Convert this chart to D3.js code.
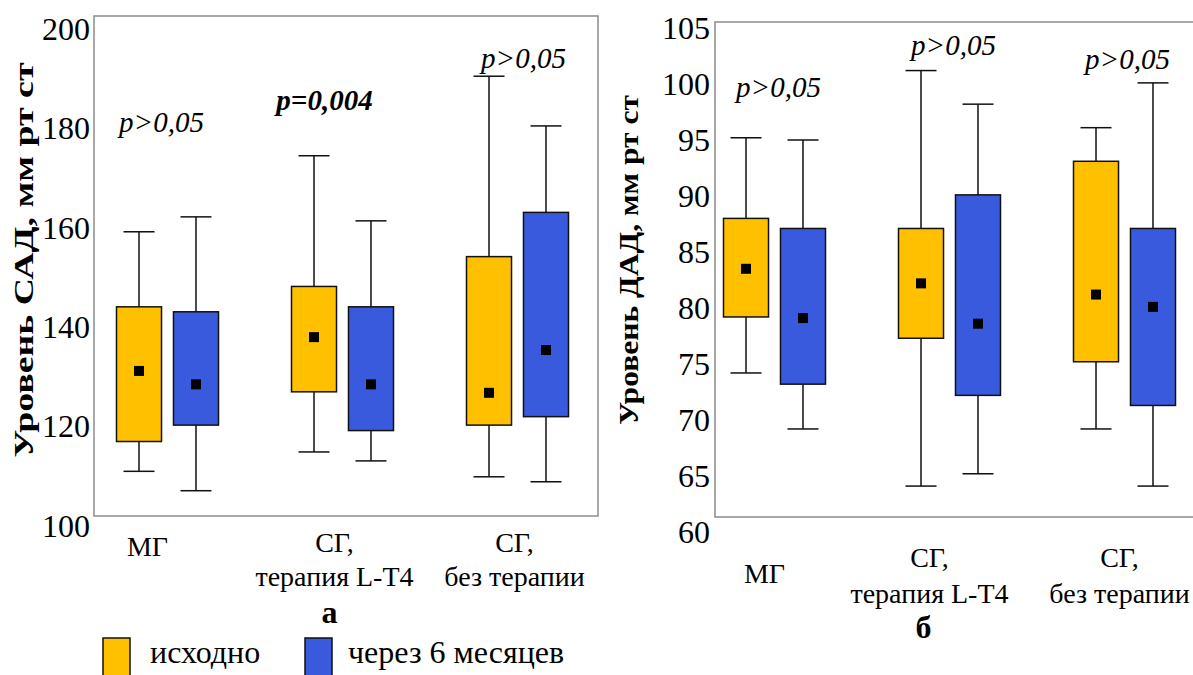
<!DOCTYPE html>
<html>
<head>
<meta charset="utf-8">
<script src="https://cdn.jsdelivr.net/npm/d3@7"></script>
<style>
  body { margin: 0; background: #fff; }
  svg text { font-family: "Liberation Serif", "Times New Roman", serif; fill: #000; }
</style>
</head>
<body>
<svg id="chart" width="1193" height="675"></svg>
<script>
// categories and series
var groups = ["МГ", "СГ, терапия L-T4", "СГ, без терапии"];
var groupLines = [["МГ"], ["СГ,", "терапия L-T4"], ["СГ,", "без терапии"]];
var series = ["исходно", "через 6 месяцев"];
var seriesColors = ["#FFC000", "#3A5ADE"];

// panel a: САД, order = МГ(исх, 6м), L-T4(исх, 6м), без терапии(исх, 6м)
var sadLow  = [111.0, 107.1, 114.9, 113.1, 109.9, 108.9];
var sadQ1   = [117.0, 120.3, 127.0, 119.2, 120.3, 122.0];
var sadMean = [131.2, 128.5, 138.0, 128.5, 126.8, 135.4];
var sadQ3   = [144.1, 143.1, 148.2, 144.1, 154.2, 163.1];
var sadHigh = [159.2, 162.2, 174.5, 161.4, 190.5, 180.5];
var sadTicks = [100, 120, 140, 160, 180, 200];
var sadP = ["p>0,05", "p=0,004", "p>0,05"];
var sadPAt = [179.3, 183.7, 192.2];

// panel б: ДАД
var dadLow  = [74.2, 69.2, 64.1, 65.2, 69.2, 64.1];
var dadQ1   = [79.2, 73.2, 77.3, 72.2, 75.2, 71.3];
var dadMean = [83.5, 79.1, 82.2, 78.6, 81.2, 80.1];
var dadQ3   = [88.0, 87.1, 87.1, 90.1, 93.1, 87.1];
var dadHigh = [95.2, 95.0, 101.2, 98.2, 96.1, 100.1];
var dadTicks = [60, 65, 70, 75, 80, 85, 90, 95, 100, 105];
var dadP = ["p>0,05", "p>0,05", "p>0,05"];
var dadPAt = [98.8, 102.6, 101.3];

var svg = d3.select("#chart");

// build rows for a panel from its arrays
function makeRows(low, q1, mean, q3, high) {
  var rows = [];
  groups.forEach(function(g, i) {
    series.forEach(function(s, j) {
      var k = i * series.length + j;
      rows.push({group: g, series: s, lo: low[k], q1: q1[k], mean: mean[k], q3: q3[k], hi: high[k]});
    });
  });
  return rows;
}

function drawPanel(cfg) {
  var g = svg.append("g");

  var y = d3.scaleLinear().domain(cfg.yDomain).range(cfg.yRange);
  var x0 = d3.scaleBand().domain(groups).range(cfg.xRange);
  var x1 = d3.scaleBand().domain(series).range([-51, 51]).paddingInner(0.21);
  var color = d3.scaleOrdinal().domain(series).range(seriesColors);
  var mid = function(i) { return x0(groups[i]) + x0.bandwidth() / 2; };

  // plot frame
  g.append("rect")
    .attr("x", cfg.frame[0]).attr("y", cfg.frame[1])
    .attr("width", cfg.frame[2] - cfg.frame[0]).attr("height", cfg.frame[3] - cfg.frame[1])
    .attr("fill", "none").attr("stroke", "#8c8c8c").attr("stroke-width", 1.5);

  // y axis labels only
  var ax = g.append("g")
    .attr("transform", "translate(" + cfg.frame[0] + ",0)")
    .call(d3.axisLeft(y).tickValues(cfg.ticks).tickSize(0).tickPadding(cfg.tickPad))
    .attr("font-family", null).attr("font-size", 32);
  ax.select(".domain").remove();

  // y title
  g.append("text")
    .attr("transform", "translate(" + cfg.titleX + ",260) rotate(-90)")
    .attr("text-anchor", "middle")
    .attr("font-size", 27).attr("font-weight", "bold")
    .attr("textLength", cfg.titleLen).attr("lengthAdjust", "spacingAndGlyphs")
    .text(cfg.title);

  var bw = x1.bandwidth();
  var cx = function(d) { return x0(d.group) + x0.bandwidth() / 2 + x1(d.series) + bw / 2; };

  var box = g.selectAll(".box").data(cfg.rows).enter().append("g").attr("class", "box");

  // whiskers
  box.append("line")
    .attr("x1", cx).attr("x2", cx)
    .attr("y1", function(d) { return y(d.hi); }).attr("y2", function(d) { return y(d.lo); })
    .attr("stroke", "#111").attr("stroke-width", 1.5);
  ["hi", "lo"].forEach(function(k) {
    box.append("line")
      .attr("x1", function(d) { return cx(d) - 15.5; }).attr("x2", function(d) { return cx(d) + 15.5; })
      .attr("y1", function(d) { return y(d[k]); }).attr("y2", function(d) { return y(d[k]); })
      .attr("stroke", "#111").attr("stroke-width", 1.5);
  });

  // boxes
  box.append("rect")
    .attr("x", function(d) { return cx(d) - bw / 2; })
    .attr("y", function(d) { return y(d.q3); })
    .attr("width", bw)
    .attr("height", function(d) { return y(d.q1) - y(d.q3); })
    .attr("fill", function(d) { return color(d.series); })
    .attr("stroke", "#111").attr("stroke-width", 1.5);

  // mean marker
  box.append("rect")
    .attr("x", function(d) { return cx(d) - 5; })
    .attr("y", function(d) { return y(d.mean) - 5; })
    .attr("width", 10).attr("height", 10)
    .attr("fill", "#000");

  // p values
  g.selectAll(".pval").data(cfg.p).enter().append("text")
    .attr("class", "pval")
    .attr("x", function(d, i) { return mid(i) + cfg.pDx[i]; })
    .attr("y", function(d, i) { return y(cfg.pAt[i]); })
    .attr("text-anchor", "middle")
    .attr("font-size", 29).attr("font-style", "italic")
    .attr("font-weight", function(d) { return d.indexOf("=") >= 0 ? "bold" : "normal"; })
    .text(function(d) { return d; });

  // group labels
  var lab = g.selectAll(".glab").data(groupLines).enter().append("text")
    .attr("class", "glab")
    .attr("text-anchor", "middle")
    .attr("font-size", 28)
    .attr("x", function(d, i) { return mid(i) + cfg.labelDx[i]; })
    .attr("y", function(d) { return d.length == 1 ? cfg.singleY : cfg.labelY; });
  lab.selectAll("tspan").data(function(d) { return d; }).enter().append("tspan")
    .attr("x", function() { return d3.select(this.parentNode).attr("x"); })
    .attr("dy", function(d, i) { return i == 0 ? 0 : cfg.lineGap; })
    .text(function(d) { return d; });

  // panel letter
  g.append("text")
    .attr("x", mid(1) + cfg.letterDx).attr("y", cfg.letterY)
    .attr("text-anchor", "middle")
    .attr("font-size", 32).attr("font-weight", "bold")
    .text(cfg.letter);
}

drawPanel({
  rows: makeRows(sadLow, sadQ1, sadMean, sadQ3, sadHigh),
  yDomain: [100, 200], yRange: [526, 29], ticks: sadTicks,
  xRange: [80, 605], frame: [94, 16, 598, 516], tickPad: 4,
  title: "Уровень САД, мм рт ст", titleX: 33, titleLen: 395,
  p: sadP, pAt: sadPAt, pDx: [-6, -18, 6],
  labelY: 552, singleY: 556, lineGap: 34, labelDx: [-20, -8, -3],
  letter: "а", letterDx: -13, letterY: 623
});

drawPanel({
  rows: makeRows(dadLow, dadQ1, dadMean, dadQ3, dadHigh),
  yDomain: [60, 105], yRange: [532, 28], ticks: dadTicks,
  xRange: [687, 1212], frame: [715, 22, 1200, 517], tickPad: 5,
  title: "Уровень ДАД, мм рт ст", titleX: 638, titleLen: 330,
  p: dadP, pAt: dadPAt, pDx: [4, 4, 3],
  labelY: 567, singleY: 583, lineGap: 36, labelDx: [-10, -20, -5],
  letter: "б", letterDx: -26, letterY: 638
});

// legend
var legendX = [103, 305];
var legend = svg.append("g").selectAll("g").data(series).enter().append("g")
  .attr("transform", function(d, i) { return "translate(" + legendX[i] + ",638)"; });
legend.append("rect")
  .attr("width", 27).attr("height", 45)
  .attr("fill", function(d, i) { return seriesColors[i]; })
  .attr("stroke", "#111").attr("stroke-width", 1.5);
legend.append("text")
  .attr("x", function(d, i) { return i == 0 ? 47 : 43; }).attr("y", 25)
  .attr("font-size", 32)
  .text(function(d) { return d; });
</script>
</body>
</html>
